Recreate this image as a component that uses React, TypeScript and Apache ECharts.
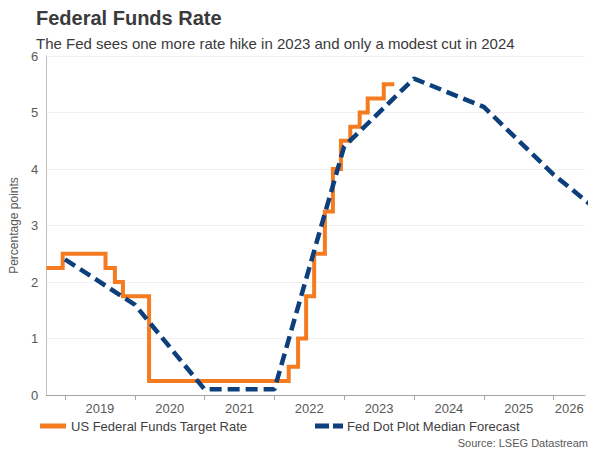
import React, { useEffect, useRef } from "react";
import * as echarts from "echarts";

const titleText = "Federal Funds Rate";
const subtitleText = "The Fed sees one more rate hike in 2023 and only a modest cut in 2024";
const sourceText = "Source: LSEG Datastream";
const yAxisName = "Percentage points";
const seriesNames = ["US Federal Funds Target Rate", "Fed Dot Plot Median Forecast"];

// Fed funds target rate (upper bound), change dates and new levels
const rateDates = [
  "2018-09-26", "2018-12-20", "2019-08-01", "2019-09-19", "2019-10-31",
  "2020-03-16", "2022-03-17", "2022-05-05", "2022-06-16", "2022-07-28",
  "2022-09-22", "2022-11-03", "2022-12-15", "2023-02-02", "2023-03-23",
  "2023-05-04", "2023-07-27", "2023-09-20",
];
const rateValues = [
  2.25, 2.5, 2.25, 2.0, 1.75,
  0.25, 0.5, 1.0, 1.75, 2.5,
  3.25, 4.0, 4.5, 4.75, 5.0,
  5.25, 5.5, 5.5,
];

// Dot plot median, plotted at each year boundary
const dotYears = [2019, 2020, 2021, 2022, 2023, 2024, 2025, 2026, 2027];
const dotValues = [2.4, 1.6, 0.1, 0.1, 4.4, 5.6, 5.1, 3.9, 2.9];

const yearTicks = [2019, 2020, 2021, 2022, 2023, 2024, 2025, 2026];
const xMin = 2018.73;
const xMax = 2026.45;

const FONT = "'Liberation Sans', Arial, sans-serif";

function toDecimalYear(s: string): number {
  const [y, m, d] = s.split("-").map(Number);
  const start = Date.UTC(y, 0, 1);
  const end = Date.UTC(y + 1, 0, 1);
  const t = Date.UTC(y, m - 1, d);
  return y + (t - start) / (end - start);
}

export default function App() {
  const ref = useRef<HTMLDivElement>(null);
  useEffect(() => {
    if (!ref.current) return;
    const chart = echarts.init(ref.current, undefined, { renderer: "svg" });
    const rateData = rateDates.map((d, i) => [toDecimalYear(d), rateValues[i]]);
    const dotData = dotYears.map((y, i) => [y, dotValues[i]]);
    const labelValues = yearTicks.map((y) => Math.min(y + 0.5, (y + xMax) / 2));

    chart.setOption({
      animation: false,
      backgroundColor: "#ffffff",
      textStyle: { fontFamily: FONT },
      title: [
        {
          text: titleText,
          left: 36,
          top: 8,
          padding: 0,
          textStyle: { fontFamily: FONT, fontSize: 20, fontWeight: "bold", color: "#3a3a3a" },
        },
        {
          text: subtitleText,
          left: 36,
          top: 35,
          padding: 0,
          textStyle: { fontFamily: FONT, fontSize: 15, fontWeight: "normal", color: "#3a3a3a", lineHeight: 16 },
        },
        {
          text: sourceText,
          right: 12,
          top: 437,
          padding: 0,
          textStyle: { fontFamily: FONT, fontSize: 11, fontWeight: "normal", color: "#595959" },
        },
      ],
      grid: { left: 34, right: 15, top: 56, bottom: 55, containLabel: false },
      xAxis: {
        type: "value",
        min: xMin,
        max: xMax,
        axisLine: { show: true, lineStyle: { color: "#a6a6a6", width: 1 } },
        axisTick: {
          show: true,
          customValues: yearTicks,
          length: 5,
          lineStyle: { color: "#a6a6a6" },
        },
        axisLabel: {
          customValues: labelValues,
          formatter: (v: number) => String(Math.floor(v)),
          color: "#595959",
          fontSize: 13,
          fontFamily: FONT,
          margin: 7,
        },
        splitLine: { show: false },
      },
      yAxis: {
        type: "value",
        min: 0,
        max: 6,
        interval: 1,
        name: yAxisName,
        nameLocation: "middle",
        nameGap: 22,
        nameRotate: 90,
        nameTextStyle: { color: "#595959", fontSize: 12, fontFamily: FONT },
        axisLine: { show: true, lineStyle: { color: "#bfbfbf", width: 1 } },
        axisTick: { show: false },
        axisLabel: { color: "#595959", fontSize: 13, fontFamily: FONT, margin: 8 },
        splitLine: { show: true, lineStyle: { color: "#efefef", width: 1 } },
      },
      series: [
        {
          name: seriesNames[0],
          type: "line",
          step: "end",
          data: rateData,
          showSymbol: false,
          symbol: "none",
          lineStyle: { color: "#f47b20", width: 4, cap: "butt", join: "miter" },
          z: 2,
        },
        {
          name: seriesNames[1],
          type: "line",
          data: dotData,
          showSymbol: false,
          symbol: "none",
          lineStyle: { color: "#0d3f7c", width: 4.5, type: [12, 6], cap: "butt" },
          z: 3,
        },
      ],
      graphic: [
        {
          type: "line",
          shape: { x1: 40, y1: 426, x2: 66, y2: 426 },
          style: { stroke: "#f47b20", lineWidth: 5 },
        },
        {
          type: "text",
          x: 71,
          y: 426,
          style: {
            text: seriesNames[0],
            fill: "#404040",
            font: `13px ${FONT}`,
            textVerticalAlign: "middle",
            verticalAlign: "middle",
          },
        },
        {
          type: "line",
          shape: { x1: 315, y1: 426, x2: 343, y2: 426 },
          style: { stroke: "#0d3f7c", lineWidth: 5, lineDash: [14, 4] },
        },
        {
          type: "text",
          x: 347,
          y: 426,
          style: {
            text: seriesNames[1],
            fill: "#404040",
            font: `13px ${FONT}`,
            textVerticalAlign: "middle",
            verticalAlign: "middle",
          },
        },
      ],
    });
    return () => chart.dispose();
  }, []);

  return (
    <div
      ref={ref}
      style={{ position: "fixed", left: 0, top: 0, width: 600, height: 450, background: "#fff" }}
    />
  );
}
